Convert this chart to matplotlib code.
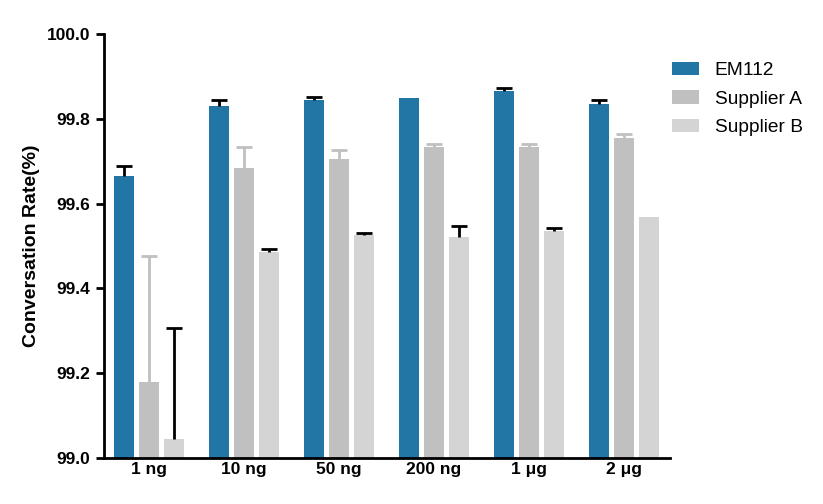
import numpy as np
import matplotlib

matplotlib.use("Agg")
import matplotlib.pyplot as plt

plt.rcParams["font.family"] = ["Liberation Sans", "DejaVu Sans"]

# Conversion rate per input amount, three reagents
groups = ["1 ng", "10 ng", "50 ng", "200 ng", "1 μg", "2 μg"]
series = ["EM112", "Supplier A", "Supplier B"]
em112 = [99.665, 99.830, 99.844, 99.849, 99.866, 99.835]
em112_err = [0.023, 0.014, 0.008, 0.0, 0.007, 0.009]
supplier_a = [99.179, 99.684, 99.705, 99.733, 99.733, 99.755]
supplier_a_err = [0.298, 0.050, 0.022, 0.008, 0.008, 0.008]
supplier_b = [99.045, 99.486, 99.526, 99.521, 99.535, 99.569]
supplier_b_err = [0.262, 0.006, 0.005, 0.027, 0.008, 0.0]

colors = ["#2276a6", "#c0c0c0", "#d4d4d4"]
err_colors = ["black", "#c0c0c0", "black"]

fig = plt.figure(figsize=(8.23, 5.04), dpi=100)
ax = fig.add_axes([0.1264, 0.0913, 0.6877, 0.8412])

x = np.arange(len(groups))
width = 0.21
step = 0.263
values = [em112, supplier_a, supplier_b]
errors = [em112_err, supplier_a_err, supplier_b_err]
for i, (vals, errs) in enumerate(zip(values, errors)):
    pos = x + (i - 1) * step
    vals = np.array(vals)
    errs = np.array(errs)
    base = 99.0
    ax.bar(pos, vals - base, width, bottom=base, color=colors[i],
           label=series[i], zorder=2)
    # upper-only error bars with a single cap
    m = errs > 0
    ax.vlines(pos[m], vals[m], vals[m] + errs[m], color=err_colors[i],
              lw=2, zorder=3)
    ax.plot(pos[m], vals[m] + errs[m], ls="none", marker="_", ms=11, mew=2,
            color=err_colors[i], zorder=3)

ax.set_xlim(-0.468, 5.484)
ax.set_ylim(99.0, 100.0)
ax.set_yticks([99.0, 99.2, 99.4, 99.6, 99.8, 100.0])
ax.set_yticklabels(["99.0", "99.2", "99.4", "99.6", "99.8", "100.0"],
                   fontweight="bold", fontsize=12.5)
ax.set_xticks(x)
ax.set_xticklabels(groups, fontweight="bold", fontsize=12.5)
ax.tick_params(axis="x", length=0, pad=3)
ax.tick_params(axis="y", length=6, width=2, direction="out", pad=4)
ax.set_ylabel("Conversation Rate(%)", fontweight="bold", fontsize=14, labelpad=5)

for side in ("top", "right"):
    ax.spines[side].set_visible(False)
for side in ("left", "bottom"):
    ax.spines[side].set_linewidth(2)

fig.legend(loc="upper left", bbox_to_anchor=(0.796, 0.912), frameon=False,
           fontsize=13.8, handlelength=1.4, handleheight=0.7,
           labelspacing=0.58, handletextpad=0.8)

fig.savefig("out.png", dpi=100)
